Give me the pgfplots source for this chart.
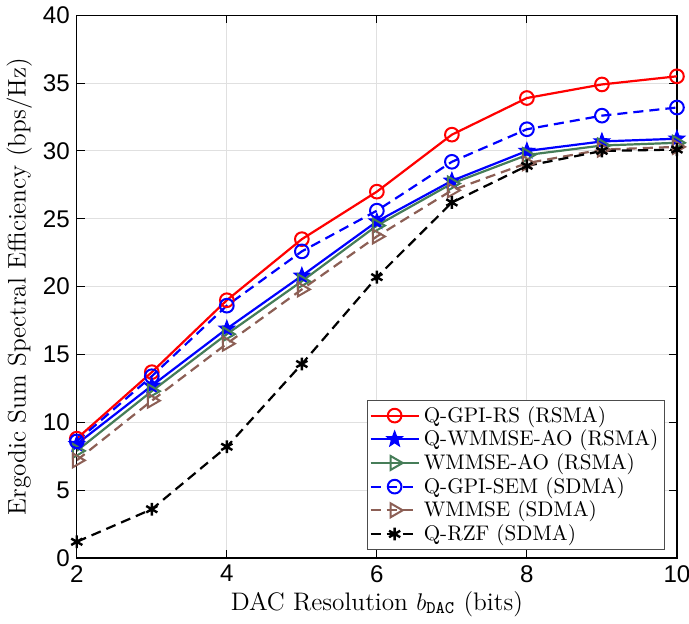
\documentclass[border=0pt]{standalone}
\usepackage{fontspec}
\usepackage{pgfplots}
\pgfplotsset{compat=1.18}
\usetikzlibrary{plotmarks}
\newfontfamily\tickfont{Liberation Sans}
\definecolor{mgreen}{RGB}{70,125,88}
\definecolor{mbrown}{RGB}{140,95,85}
\pgfdeclareplotmark{fstar}{%
  \pgfpathmoveto{\pgfpointpolar{90}{\pgfplotmarksize}}%
  \pgfpathlineto{\pgfpointpolar{126}{0.42\pgfplotmarksize}}%
  \pgfpathlineto{\pgfpointpolar{162}{\pgfplotmarksize}}%
  \pgfpathlineto{\pgfpointpolar{198}{0.42\pgfplotmarksize}}%
  \pgfpathlineto{\pgfpointpolar{234}{\pgfplotmarksize}}%
  \pgfpathlineto{\pgfpointpolar{270}{0.42\pgfplotmarksize}}%
  \pgfpathlineto{\pgfpointpolar{306}{\pgfplotmarksize}}%
  \pgfpathlineto{\pgfpointpolar{342}{0.42\pgfplotmarksize}}%
  \pgfpathlineto{\pgfpointpolar{18}{\pgfplotmarksize}}%
  \pgfpathlineto{\pgfpointpolar{54}{0.42\pgfplotmarksize}}%
  \pgfpathclose
  \pgfusepathqfillstroke}
\begin{document}
\begin{tikzpicture}
\begin{axis}[
  scale only axis,
  width=298.5pt, height=270pt,
  xmin=2, xmax=10, ymin=0, ymax=40,
  xtick={2,4,6,8,10}, ytick={0,5,...,40},
  tick align=inside, tick pos=both,
  major tick length=4pt,
  grid=major,
  major grid style={color=black!12, line width=0.5pt},
  axis line style={black, line width=0.6pt},
  every tick/.style={black, line width=0.5pt},
  /pgf/number format/assume math mode=true,
  ticklabel style={font=\tickfont\fontsize{12}{14}\selectfont},
  xlabel={DAC Resolution $b_{\mathtt{DAC}}$ (bits)},
  ylabel={Ergodic Sum Spectral Efficiency (bps/Hz)},
  label style={font=\fontsize{12.6}{14}\selectfont},
  xlabel style={yshift=2.5pt},
  ylabel style={yshift=-1.5pt},
  legend style={at={(0.98,0.015)}, anchor=south east, draw=black!70, line width=0.5pt,
    font=\fontsize{10.5}{12}\selectfont, inner sep=1pt, row sep=-1.6pt, cells={anchor=west}},
  legend image code/.code={\draw[mark repeat=2,mark phase=2] plot coordinates {(0cm,0cm) (0.42cm,0cm) (0.84cm,0cm)};},
  every axis plot/.append style={line width=1.1pt, mark size=3.4pt},
]
\addplot[red, mark=o, mark options={solid, line width=1pt}] coordinates {
(2,8.8) (3,13.7) (4,19.0) (5,23.5) (6,27.0) (7,31.2) (8,33.9) (9,34.9) (10,35.5)};
\addlegendentry{Q-GPI-RS (RSMA)}
\addplot[blue, mark=fstar, mark options={solid, line width=0.6pt, fill=blue}, mark size=4pt] coordinates {
(2,8.4) (3,12.7) (4,16.9) (5,20.8) (6,24.8) (7,27.8) (8,30.0) (9,30.7) (10,30.9)};
\addlegendentry{Q-WMMSE-AO (RSMA)}
\addplot[mgreen, mark=triangle, mark options={solid, rotate=-90, line width=1pt}, mark size=4pt] coordinates {
(2,7.9) (3,12.3) (4,16.5) (5,20.4) (6,24.5) (7,27.6) (8,29.7) (9,30.4) (10,30.6)};
\addlegendentry{WMMSE-AO (RSMA)}
\addplot[blue, dashed, dash pattern=on 5pt off 3pt, mark=o, mark options={solid, line width=1pt}] coordinates {
(2,8.6) (3,13.4) (4,18.6) (5,22.6) (6,25.6) (7,29.2) (8,31.6) (9,32.6) (10,33.2)};
\addlegendentry{Q-GPI-SEM (SDMA)}
\addplot[mbrown, dashed, dash pattern=on 5pt off 3pt, mark=triangle, mark options={solid, rotate=-90, line width=1pt}, mark size=4pt] coordinates {
(2,7.2) (3,11.6) (4,15.8) (5,19.8) (6,23.7) (7,27.1) (8,29.1) (9,30.1) (10,30.3)};
\addlegendentry{WMMSE (SDMA)}
\addplot[black, dashed, dash pattern=on 5pt off 3pt, mark=asterisk, mark options={solid, line width=1.2pt}, mark size=3.2pt] coordinates {
(2,1.2) (3,3.6) (4,8.2) (5,14.3) (6,20.7) (7,26.2) (8,28.9) (9,30.0) (10,30.1)};
\addlegendentry{Q-RZF (SDMA)}
\end{axis}
\pgfresetboundingbox
\path (current axis.outer south west) rectangle ([xshift=6pt]current axis.east |- current axis.outer north east);
\end{tikzpicture}
\end{document}
